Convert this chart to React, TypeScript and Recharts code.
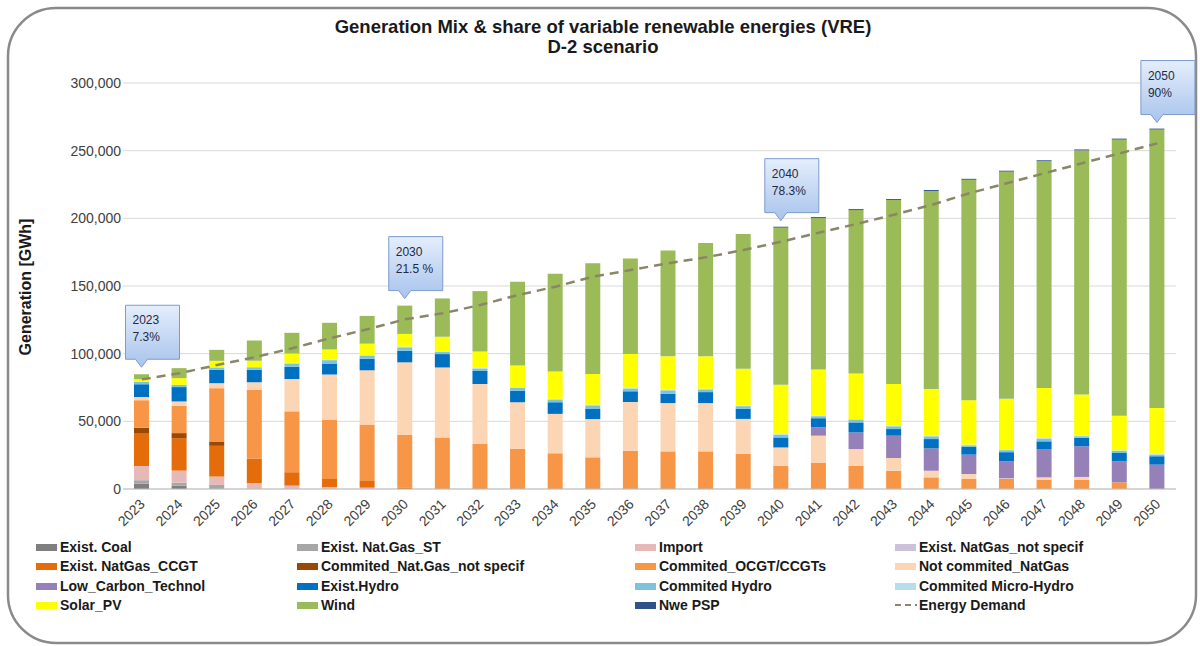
import { ComposedChart, Bar, Line, XAxis, YAxis, CartesianGrid, LabelList } from 'recharts';

const years = [
  '2023', '2024', '2025', '2026', '2027', '2028', '2029', '2030', '2031', '2032',
  '2033', '2034', '2035', '2036', '2037', '2038', '2039', '2040', '2041', '2042',
  '2043', '2044', '2045', '2046', '2047', '2048', '2049', '2050',
];

// GWh per year
const existCoal = [4000, 2500, 500, 0, 0, 0, 0, 0, 0, 0, 0, 0, 0, 0, 0, 0, 0, 0, 0, 0, 0, 0, 0, 0, 0, 0, 0, 0];
const existGasST = [2500, 2200, 2500, 0, 0, 0, 0, 0, 0, 0, 0, 0, 0, 0, 0, 0, 0, 0, 0, 0, 0, 0, 0, 0, 0, 0, 0, 0];
const importEl = [10500, 8900, 6200, 4400, 2500, 1500, 1000, 0, 0, 0, 0, 0, 0, 0, 0, 0, 0, 0, 0, 0, 0, 0, 0, 0, 0, 0, 0, 0];
const existGasNotSpec = [0, 0, 0, 0, 0, 0, 0, 0, 0, 0, 0, 0, 0, 0, 0, 0, 0, 0, 0, 0, 0, 0, 0, 0, 0, 0, 0, 0];
const existCCGT = [23900, 24000, 22700, 18000, 9900, 5900, 4900, 800, 500, 500, 500, 500, 500, 500, 500, 500, 0, 0, 0, 0, 0, 0, 0, 0, 0, 0, 0, 0];
const commitedGasNotSpec = [4400, 3700, 3200, 0, 0, 0, 0, 0, 0, 0, 0, 0, 0, 0, 0, 0, 0, 0, 0, 0, 0, 0, 0, 0, 0, 0, 0, 0];
const commitedOCGT = [20300, 20200, 39400, 51000, 45000, 43900, 41400, 39100, 37600, 32800, 29100, 25900, 22900, 27800, 27300, 27300, 25900, 17200, 19200, 17200, 13500, 8600, 7400, 7400, 6900, 6900, 4900, 0];
const notCommitedGas = [2400, 3200, 3700, 5400, 23900, 33300, 40400, 53700, 51700, 44300, 34500, 29100, 28300, 36000, 35700, 35700, 25900, 13500, 20200, 12300, 9400, 4900, 3700, 500, 1700, 2000, 0, 0];
const lowCarbon = [0, 0, 0, 0, 0, 0, 0, 0, 0, 0, 0, 0, 0, 0, 0, 0, 0, 0, 6200, 12300, 16500, 16500, 14300, 12600, 20900, 22700, 15500, 18000];
const existHydro = [9400, 10600, 9900, 9400, 8900, 8100, 8600, 8600, 9900, 9900, 8600, 8600, 7400, 7900, 6900, 8100, 7400, 7400, 6700, 7400, 4900, 6900, 5700, 6700, 5700, 6200, 6200, 6200];
const commitedHydro = [1700, 1700, 1700, 1700, 2500, 2500, 2200, 2500, 1500, 1500, 2000, 2000, 2700, 2000, 2500, 2000, 2000, 2000, 1500, 2000, 2000, 2000, 1200, 1500, 2000, 1200, 1500, 1200];
const microHydro = [0, 0, 0, 0, 500, 500, 500, 500, 500, 500, 500, 500, 500, 500, 500, 500, 500, 500, 500, 500, 500, 500, 500, 500, 500, 500, 500, 500];
const solarPV = [2000, 4900, 4900, 4900, 6900, 7400, 8400, 9400, 10800, 12100, 16000, 20200, 22700, 25100, 24600, 23900, 27100, 36500, 34000, 33700, 30800, 34500, 32800, 37400, 37000, 30300, 25600, 34000];
const wind = [3700, 7400, 8100, 15000, 15300, 19700, 20500, 20900, 28300, 44600, 62000, 72200, 81800, 70500, 78300, 83700, 99700, 116000, 111900, 120700, 136000, 146300, 162900, 167900, 167500, 180400, 204000, 205700];
const newPSP = [0, 0, 0, 0, 0, 0, 0, 0, 0, 0, 0, 0, 0, 0, 0, 0, 0, 700, 700, 700, 700, 700, 700, 700, 700, 700, 700, 700];
const energyDemand = [81000, 85500, 91600, 97300, 104000, 111400, 118000, 125400, 129800, 136000, 143300, 149500, 156900, 161800, 166800, 171200, 176600, 182700, 189400, 195800, 202700, 209900, 218500, 225900, 233300, 240700, 248000, 255400];

const yTicks = [0, 50000, 100000, 150000, 200000, 250000, 300000];

const callouts = [
  { year: '2023', share: '7.3%' },
  { year: '2030', share: '21.5 %' },
  { year: '2040', share: '78.3%' },
  { year: '2050', share: '90%' },
];

const series = [
  { key: 'existCoal', name: 'Exist. Coal', color: '#7f7f7f', values: existCoal },
  { key: 'existGasST', name: 'Exist. Nat.Gas_ST', color: '#a6a6a6', values: existGasST },
  { key: 'importEl', name: 'Import', color: '#e6b9b8', values: importEl },
  { key: 'existGasNotSpec', name: 'Exist. NatGas_not specif', color: '#ccc1da', values: existGasNotSpec },
  { key: 'existCCGT', name: 'Exist. NatGas_CCGT', color: '#e46c0a', values: existCCGT },
  { key: 'commitedGasNotSpec', name: 'Commited_Nat.Gas_not specif', color: '#984807', values: commitedGasNotSpec },
  { key: 'commitedOCGT', name: 'Commited_OCGT/CCGTs', color: '#f79646', values: commitedOCGT },
  { key: 'notCommitedGas', name: 'Not commited_NatGas', color: '#fcd5b5', values: notCommitedGas },
  { key: 'lowCarbon', name: 'Low_Carbon_Technol', color: '#9580b8', values: lowCarbon },
  { key: 'existHydro', name: 'Exist.Hydro', color: '#0070c0', values: existHydro },
  { key: 'commitedHydro', name: 'Commited Hydro', color: '#7cc3dc', values: commitedHydro },
  { key: 'microHydro', name: 'Commited Micro-Hydro', color: '#b7dee8', values: microHydro },
  { key: 'solarPV', name: 'Solar_PV', color: '#ffff00', values: solarPV },
  { key: 'wind', name: 'Wind', color: '#9bbb59', values: wind },
  { key: 'newPSP', name: 'Nwe PSP', color: '#2f5288', values: newPSP },
];

const demandColor = '#8a8668';

const data = years.map((year, i) => {
  const row: any = { year, demand: energyDemand[i] };
  series.forEach((s) => {
    row[s.key] = s.values[i];
  });
  const c = callouts.find((c) => c.year === year);
  if (c) row.callout = `${c.year}|${c.share}`;
  return row;
});

const font = '"Liberation Sans", Arial, sans-serif';

const renderCallout = (props: any) => {
  const { x, y, width, value } = props;
  if (!value) return null;
  const [yr, share] = String(value).split('|');
  const cx = x + width / 2;
  const left = cx - 16;
  const right = cx + 38;
  const bottom = y - 15;
  const top = bottom - 54;
  const tip = y - 7;
  const id = `callout-${yr}`;
  return (
    <g>
      <defs>
        <linearGradient id={id} x1="0" y1="0" x2="0" y2="1">
          <stop offset="0%" stopColor="#e4eefc" />
          <stop offset="100%" stopColor="#a8c3ec" />
        </linearGradient>
      </defs>
      <path
        d={`M${left},${top} H${right} V${bottom} H${cx + 6} L${cx},${tip} L${cx - 6},${bottom} H${left} Z`}
        fill={`url(#${id})`}
        stroke="#7d9bcb"
        strokeWidth={1}
      />
      <text x={left + 7} y={top + 19} fontSize={12} fontFamily={font} fill="#1f2a44">
        {yr}
      </text>
      <text x={left + 7} y={top + 36} fontSize={12} fontFamily={font} fill="#1f2a44">
        {share}
      </text>
    </g>
  );
};

const XTick = (props: any) => {
  const { x, y, payload } = props;
  return (
    <g transform={`translate(${x + 4},${y + 8})`}>
      <text textAnchor="end" transform="rotate(-45)" fontSize={14} fontFamily={font} fill="#404040">
        {payload.value}
      </text>
    </g>
  );
};

const legendCols = [36, 297, 635, 895];
const legendRows = [547, 566, 586, 605];

function ChartLegend() {
  const items = [
    ...series.map((s) => ({ name: s.name, color: s.color, dashed: false })),
    { name: 'Energy Demand', color: demandColor, dashed: true },
  ];
  return (
    <>
      {items.map((it, i) => (
        <div
          key={it.name}
          style={{
            position: 'absolute',
            left: legendCols[i % 4],
            top: legendRows[Math.floor(i / 4)] - 9,
            height: 18,
            display: 'flex',
            alignItems: 'center',
            fontFamily: font,
            fontWeight: 'bold',
            fontSize: 14,
            color: '#1a1a1a',
            whiteSpace: 'nowrap',
          }}
        >
          {it.dashed ? (
            <svg width={22} height={8} style={{ marginRight: 2 }}>
              <line x1={0} y1={4} x2={22} y2={4} stroke={it.color} strokeWidth={2} strokeDasharray="6 4" />
            </svg>
          ) : (
            <div style={{ width: 21, height: 7, background: it.color, marginRight: 3 }} />
          )}
          {it.name}
        </div>
      ))}
    </>
  );
}

export default function App() {
  return (
    <div style={{ position: 'absolute', left: 0, top: 0, width: 1200, height: 646, background: '#fff', overflow: 'hidden' }}>
      <svg width={1200} height={646} style={{ position: 'absolute', left: 0, top: 0 }}>
        <rect x={8} y={8} width={1188} height={635} rx={48} ry={48} fill="none" stroke="#8a8a8a" strokeWidth={2.5} />
        <text x={603} y={33} textAnchor="middle" fontFamily={font} fontWeight="bold" fontSize={18.5} fill="#1a1a1a">
          Generation Mix &amp; share of variable renewable energies (VRE)
        </text>
        <text x={603} y={53} textAnchor="middle" fontFamily={font} fontWeight="bold" fontSize={18.5} fill="#1a1a1a">
          D-2 scenario
        </text>
        <text
          x={0}
          y={0}
          transform="translate(31,287) rotate(-90)"
          textAnchor="middle"
          fontFamily={font}
          fontWeight="bold"
          fontSize={16}
          fill="#1a1a1a"
        >
          Generation [GWh]
        </text>
      </svg>
      <div style={{ position: 'absolute', left: 0, top: 0 }}>
        <ComposedChart width={1200} height={646} data={data} margin={{ top: 83, right: 24, bottom: 117, left: 0 }} barSize={15}>
          <CartesianGrid vertical={false} stroke="#d9d9d9" />
          <XAxis
            dataKey="year"
            height={40}
            interval={0}
            tick={<XTick />}
            tickLine={false}
            axisLine={{ stroke: '#bfbfbf' }}
          />
          <YAxis
            width={123}
            domain={[0, 300000]}
            ticks={yTicks}
            tickFormatter={(v: number) => v.toLocaleString('en-US')}
            tick={{ fontSize: 14, fill: '#404040', fontFamily: font }}
            axisLine={false}
            tickLine={false}
            tickSize={0}
            tickMargin={2}
          />
          {series.map((s) => (
            <Bar key={s.key} dataKey={s.key} name={s.name} stackId="gen" fill={s.color} isAnimationActive={false}>
              {s.key === 'wind' && <LabelList dataKey="callout" content={renderCallout} />}
            </Bar>
          ))}
          <Line
            type="linear"
            dataKey="demand"
            name="Energy Demand"
            stroke={demandColor}
            strokeWidth={2.5}
            strokeDasharray="9 6"
            dot={false}
            isAnimationActive={false}
          />
        </ComposedChart>
      </div>
      <ChartLegend />
    </div>
  );
}
